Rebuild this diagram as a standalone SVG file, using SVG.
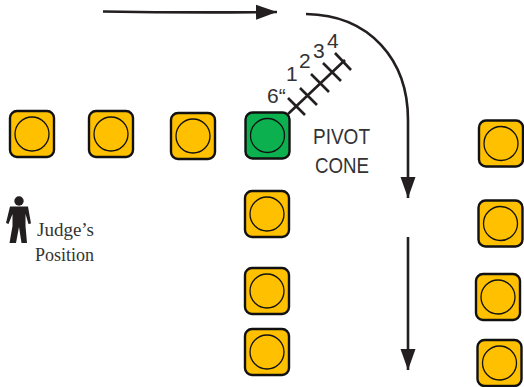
<svg xmlns="http://www.w3.org/2000/svg" width="524" height="387" viewBox="0 0 524 387">
<style>
.box{stroke:#111;stroke-width:2.4}
.ring{fill:none;stroke:#111;stroke-width:1.3}
.amber{fill:#FFC000}
.green{fill:#0DB04F}
.line{fill:none;stroke:#231F20;stroke-width:2.6}
.tick{fill:none;stroke:#231F20;stroke-width:2.6}
.num{font-family:"Liberation Sans",Arial,sans-serif;font-size:21px;fill:#333}
.piv{font-family:"Liberation Sans",Arial,sans-serif;font-size:22px;fill:#333}
.jud{font-family:"Liberation Serif","Times New Roman",serif;font-size:19px;fill:#333}
</style>
<defs>
<g id="cone"><rect class="box" x="-22" y="-23" width="44" height="46" rx="7"/><circle class="ring" r="17"/></g>
<marker id="ah" markerUnits="userSpaceOnUse" markerWidth="24" markerHeight="18" refX="21" refY="9" orient="auto"><path d="M0 1.500L21 9L0 16.500Z" fill="#231F20"/></marker>
</defs>
<g id="connectors">
<path class="line" d="M103 11.500Q190 13 277 12" marker-end="url(#ah)"/>
<path class="line" d="M306 14C370 15 408 60 408 120L408 198" marker-end="url(#ah)"/>
<path class="line" d="M408 237L408 370" marker-end="url(#ah)"/>
</g>
<g id="scale">
<path class="tick" d="M288 114L345 60M288 98L305 115M300 88L317 105M311 74L329 92M323 63L341 81M335 53L351 70"/>
<text class="num" x="267" y="103">6“</text>
<text class="num" x="286" y="81">1</text>
<text class="num" x="299" y="68">2</text>
<text class="num" x="313" y="58">3</text>
<text class="num" x="327" y="48">4</text>
</g>
<g id="pivot-label">
<text class="piv" x="313" y="144" textLength="57" lengthAdjust="spacingAndGlyphs">PIVOT</text>
<text class="piv" x="315" y="173" textLength="54" lengthAdjust="spacingAndGlyphs">CONE</text>
</g>
<g id="cone-1"><use href="#cone" x="32" y="134" class="amber"/></g>
<g id="cone-2"><use href="#cone" x="111" y="134" class="amber"/></g>
<g id="cone-3"><use href="#cone" x="193" y="136" class="amber"/></g>
<g id="pivot-cone"><use href="#cone" x="267.500" y="135.500" class="green"/></g>
<g id="cone-5"><use href="#cone" x="267" y="214" class="amber"/></g>
<g id="cone-6"><use href="#cone" x="267" y="291" class="amber"/></g>
<g id="cone-7"><use href="#cone" x="267" y="352" class="amber"/></g>
<g id="cone-8"><use href="#cone" x="501" y="143.500" class="amber"/></g>
<g id="cone-9"><use href="#cone" x="500.500" y="223.500" class="amber"/></g>
<g id="cone-10"><use href="#cone" x="498" y="297" class="amber"/></g>
<g id="cone-11"><use href="#cone" x="499.500" y="363" class="amber"/></g>
<g id="judge">
<circle cx="19" cy="201" r="4.700" fill="#231F20"/>
<path d="M10 206.500L28 206.500L31 223.500L28.500 224L25.500 214L25.500 226L27 243L21.500 243L19 227L16 243L9.500 243L12.500 226L12.500 214L8.500 224L6 223Z" fill="#231F20"/>
<text class="jud" x="37" y="236" textLength="57" lengthAdjust="spacingAndGlyphs">Judge’s</text>
<text class="jud" x="35" y="261" textLength="59" lengthAdjust="spacingAndGlyphs">Position</text>
</g>
</svg>
